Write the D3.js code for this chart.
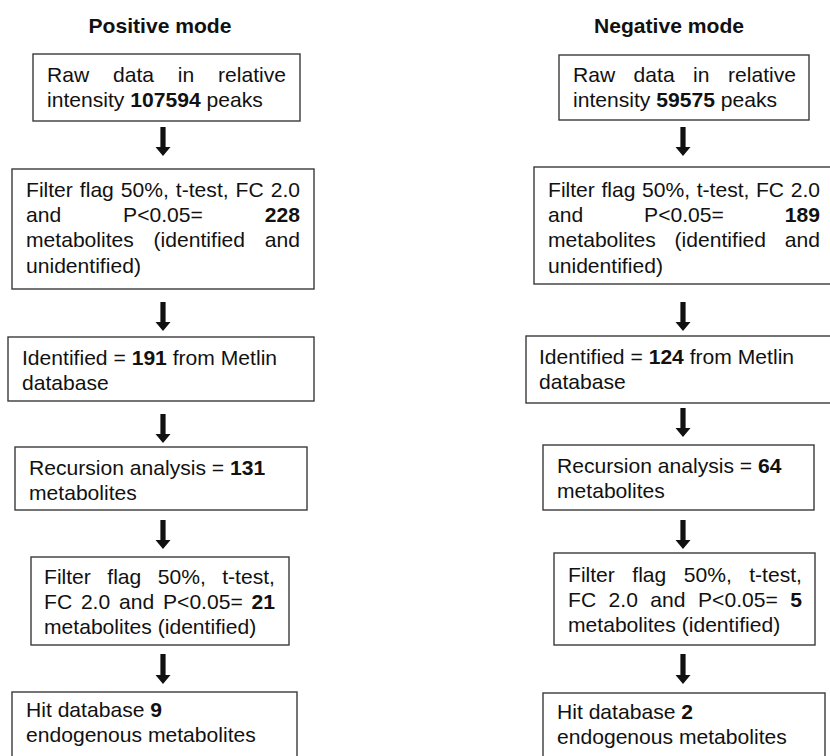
<!DOCTYPE html>
<html>
<head>
<meta charset="utf-8">
<script src="https://cdn.jsdelivr.net/npm/d3@7"></script>
<style>
  body { margin: 0; background: #fff; }
  svg { display: block; font-family: "Liberation Sans", Arial, sans-serif; }
</style>
</head>
<body>
<svg></svg>
<script>
// flowchart values, one entry per mode (positive, negative)
const modes = ['Positive mode', 'Negative mode'];
const rawPeaks = [107594, 59575];
const filtered = [228, 189];
const identified = [191, 124];
const recursion = [131, 64];
const filteredIdent = [21, 5];
const hits = [9, 2];

// text of each step, {v} gets the value, ** marks bold
const steps = [
  { values: rawPeaks, lines: ['Raw data in relative', 'intensity **{v}** peaks'], justify: [1, 0] },
  { values: filtered, lines: ['Filter flag 50%, t-test, FC 2.0', 'and P<0.05= **{v}**', 'metabolites (identified and', 'unidentified)'], justify: [1, 1, 1, 0] },
  { values: identified, lines: ['Identified = **{v}** from Metlin', 'database'], justify: [0, 0] },
  { values: recursion, lines: ['Recursion analysis = **{v}**', 'metabolites'], justify: [0, 0] },
  { values: filteredIdent, lines: ['Filter flag 50%, t-test,', 'FC 2.0 and P<0.05= **{v}**', 'metabolites (identified)'], justify: [1, 1, 0] },
  { values: hits, lines: ['Hit database **{v}**', 'endogenous metabolites'], justify: [0, 0] }
];

// layout: box [x0, x1, y0, y1], text [left, right], first baseline
const layout = [
  [ // positive
    { box: [33, 300, 54, 121], text: [47, 286], base: 82 },
    { box: [12, 314, 169, 289], text: [26, 300], base: 197 },
    { box: [8, 314, 337, 401], text: [22, 300], base: 365 },
    { box: [15, 307, 447, 510], text: [29, 300], base: 475 },
    { box: [31, 289, 557, 645], text: [44, 275], base: 584 },
    { box: [12, 297, 692, 780], text: [26, 290], base: 717 }
  ],
  [ // negative
    { box: [559, 809, 55, 120], text: [573, 796], base: 82 },
    { box: [534, 845, 167, 284], text: [548, 820], base: 197 },
    { box: [526, 845, 336, 403], text: [539, 820], base: 364 },
    { box: [543, 814, 445, 510], text: [557, 800], base: 473 },
    { box: [554, 815, 553, 645], text: [568, 802], base: 582 },
    { box: [543, 825, 693, 780], text: [557, 820], base: 719 }
  ]
];
const titleX = [160, 669];
const arrowX = [163, 683];
const arrowY = [
  [[127, 156], [302, 331], [414, 443], [520, 549], [654, 684]],
  [[127, 156], [302, 331], [408, 437], [520, 549], [654, 684]]
];

const width = 830, height = 756;
const FS = 20, SX = 1.055, LH = 25.2;

const svg = d3.select('svg')
  .attr('width', width)
  .attr('height', height);

// writes one line of words, spreading them out if justified
function drawLine(g, str, justify, w) {
  const tokens = str.split(' ').map(t => {
    const b = t.startsWith('**');
    return { w: t.replace(/\*\*/g, ''), b: b };
  });
  const words = tokens.map(t => g.append('text')
    .attr('font-size', FS)
    .attr('font-weight', t.b ? 'bold' : 'normal')
    .attr('fill', '#111')
    .text(t.w));
  const widths = words.map(t => t.node().getComputedTextLength());
  let gap = FS * 0.278;
  if (justify && words.length > 1) {
    gap = (w / SX - d3.sum(widths)) / (words.length - 1);
  }
  let x = 0;
  words.forEach((t, i) => { t.attr('x', x); x += widths[i] + gap; });
}

// arrow path pointing down
function arrowPath(cx, y0, y1) {
  const sw = 2.6, hw = 7.5, hl = 9;
  return d3.line()([
    [cx - sw, y0], [cx + sw, y0], [cx + sw, y1 - hl], [cx + hw, y1 - hl],
    [cx, y1], [cx - hw, y1 - hl], [cx - sw, y1 - hl]
  ]) + 'Z';
}

modes.forEach((mode, m) => {
  const col = svg.append('g').attr('class', 'col');

  // title
  col.append('text')
    .attr('transform', `translate(${titleX[m]},33) scale(${SX},1)`)
    .attr('text-anchor', 'middle')
    .attr('font-size', FS)
    .attr('font-weight', 'bold')
    .attr('fill', '#111')
    .text(mode);

  steps.forEach((s, i) => {
    const L = layout[m][i];
    col.append('rect')
      .attr('x', L.box[0])
      .attr('y', L.box[2])
      .attr('width', L.box[1] - L.box[0])
      .attr('height', L.box[3] - L.box[2])
      .attr('fill', 'none')
      .attr('stroke', '#3a3a3a')
      .attr('stroke-width', 1.4);

    s.lines.forEach((ln, j) => {
      const g = col.append('g')
        .attr('transform', `translate(${L.text[0]},${L.base + j * LH}) scale(${SX},1)`);
      drawLine(g, ln.replace('{v}', s.values[m]), s.justify[j], L.text[1] - L.text[0]);
    });
  });

  // arrows between boxes
  col.selectAll('.arrow')
    .data(arrowY[m])
    .enter()
    .append('path')
    .attr('class', 'arrow')
    .attr('d', d => arrowPath(arrowX[m], d[0], d[1]))
    .attr('fill', '#111');
});
</script>
</body>
</html>
